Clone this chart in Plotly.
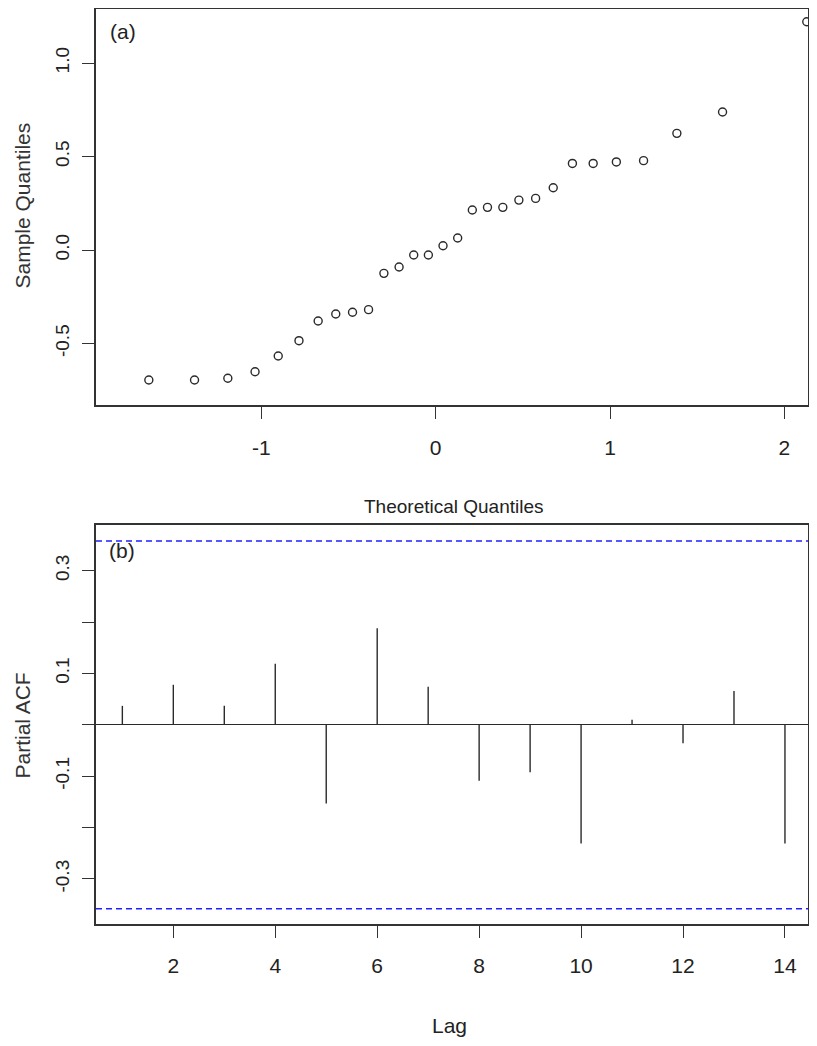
import plotly.graph_objects as go

# ---- data ----
theoretical_q = [-1.645, -1.383, -1.192, -1.036, -0.903, -0.784, -0.674, -0.573, -0.477, -0.385,
                 -0.297, -0.210, -0.126, -0.042, 0.042, 0.126, 0.210, 0.297, 0.385, 0.477,
                 0.573, 0.674, 0.784, 0.903, 1.036, 1.192, 1.383, 1.645, 2.128]
sample_q = [-0.695, -0.695, -0.686, -0.651, -0.567, -0.485, -0.380, -0.342, -0.333, -0.319,
            -0.125, -0.091, -0.027, -0.027, 0.023, 0.064, 0.214, 0.228, 0.228, 0.267,
            0.276, 0.333, 0.463, 0.463, 0.471, 0.478, 0.624, 0.738, 1.221]
lags = [1, 2, 3, 4, 5, 6, 7, 8, 9, 10, 11, 12, 13, 14]
pacf = [0.037, 0.078, 0.037, 0.119, -0.153, 0.188, 0.074, -0.109, -0.092, -0.231,
        0.010, -0.036, 0.066, -0.231]
ci = 0.358

qq_xticks = [-1, 0, 1, 2]
qq_yticks = [-0.5, 0.0, 0.5, 1.0]
qq_yticktext = ["-0.5", "0.0", "0.5", "1.0"]
pacf_xticks = [2, 4, 6, 8, 10, 12, 14]
pacf_yticks = [-0.3, -0.2, -0.1, 0.0, 0.1, 0.2, 0.3]
pacf_yticktext = ["-0.3", "", "-0.1", "", "0.1", "", "0.3"]

OFF = 8  # page body margin
W, H = 817 - 2 * OFF, 1046 - 2 * OFF
NARROW = "Liberation Sans Narrow, Liberation Sans, Arial, sans-serif"
REG = "Liberation Sans, Arial, sans-serif"
INK = "#2a2a2a"

def px_x(p):
    return min(max((p - OFF) / W, 0.0), 1.0)

def px_y(p):
    return min(max(1 - (p - OFF) / H, 0.0), 1.0)

fig = go.Figure()

fig.add_trace(go.Scatter(
    x=theoretical_q, y=sample_q, mode="markers",
    marker=dict(symbol="circle-open", size=8, color=INK, line=dict(width=1.4, color=INK)),
    xaxis="x", yaxis="y", showlegend=False, cliponaxis=False))

# PACF spikes
sx, sy = [], []
for l, v in zip(lags, pacf):
    sx += [l, l, None]
    sy += [0, v, None]
fig.add_trace(go.Scatter(x=sx, y=sy, mode="lines", line=dict(color=INK, width=1.4),
                         xaxis="x2", yaxis="y2", showlegend=False))

# confidence bounds
for c in (ci, -ci):
    fig.add_trace(go.Scatter(x=[0.483, 14.452], y=[c, c], mode="lines",
                             line=dict(color="#2020ff", width=1.5, dash="6px,4px"),
                             xaxis="x2", yaxis="y2", showlegend=False))

axis_common = dict(showline=True, mirror=True, linecolor="#333333", linewidth=1.6,
                   ticks="outside", ticklen=12, tickwidth=1.4, tickcolor="#333333",
                   showgrid=False, zeroline=False, automargin=False)

fig.update_layout(
    width=W, height=H, margin=dict(l=0, r=0, t=0, b=0, autoexpand=False),
    paper_bgcolor="white", plot_bgcolor="white",
    xaxis=dict(domain=[px_x(96), px_x(808)], range=[-1.948, 2.135], anchor="y",
               tickvals=qq_xticks, ticktext=["-1", "0", "1", "2"],
               tickfont=dict(family=NARROW, size=21, color="#222"), ticklabelstandoff=11,
               **axis_common),
    yaxis=dict(domain=[px_y(405), px_y(9)], range=[-0.829, 1.289], anchor="x",
               tickvals=qq_yticks, ticktext=qq_yticktext, tickangle=-90,
               tickfont=dict(family=REG, size=19, color="#222"), ticklabelstandoff=6,
               **axis_common),
    xaxis2=dict(domain=[px_x(96), px_x(808)], range=[0.483, 14.452], anchor="y2",
                tickvals=pacf_xticks, ticktext=[str(t) for t in pacf_xticks],
                tickfont=dict(family=NARROW, size=21, color="#222"), ticklabelstandoff=10,
                **axis_common),
    yaxis2=dict(domain=[px_y(924), px_y(525)], range=[-0.3876, 0.389], anchor="x2",
                tickvals=pacf_yticks, ticktext=pacf_yticktext, tickangle=-90,
                tickfont=dict(family=REG, size=19, color="#222"), ticklabelstandoff=6,
                **{**axis_common, "zeroline": True, "zerolinecolor": INK, "zerolinewidth": 1.4}),
)

annos = [
    dict(text="Theoretical Quantiles", x=px_x(454), y=px_y(507), xanchor="center",
         font=dict(family=NARROW, size=19, color="#222")),
    dict(text="Lag", x=px_x(449), y=px_y(1025), xanchor="center",
         font=dict(family=NARROW, size=21, color="#222")),
    dict(text="Sample Quantiles", x=0, y=px_y(206), xanchor="left", textangle=-90,
         font=dict(family=REG, size=21, color="#333")),
    dict(text="Partial ACF", x=0, y=px_y(726), xanchor="left", textangle=-90,
         font=dict(family=REG, size=21, color="#333")),
    dict(text="(a)", x=px_x(123), y=px_y(32), xanchor="center",
         font=dict(family=NARROW, size=21, color="#222")),
    dict(text="(b)", x=px_x(122), y=px_y(550), xanchor="center",
         font=dict(family=NARROW, size=21, color="#222")),
]
for a in annos:
    fig.add_annotation(xref="paper", yref="paper", showarrow=False, yanchor="middle", **a)

fig.write_html("out.html")
